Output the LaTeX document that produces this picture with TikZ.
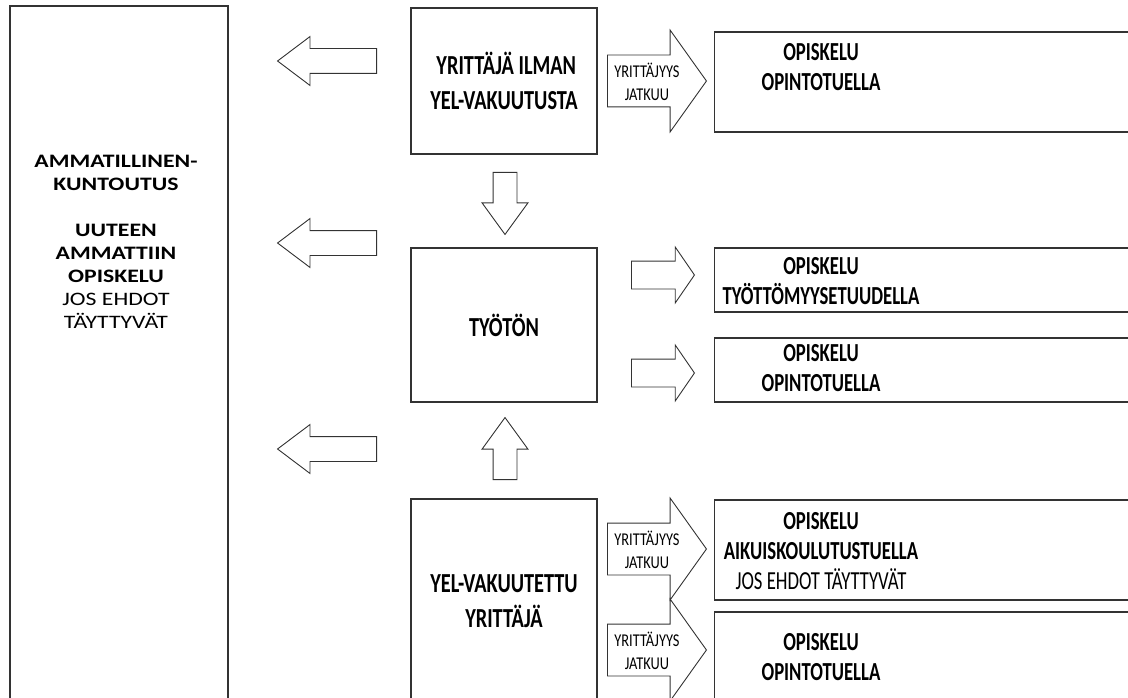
\documentclass[tikz,border=0pt]{standalone}
\usepackage{fontspec}
\setmainfont{Carlito}
\newfontfamily\kuntfont[FakeStretch=1.25]{Carlito}
\newfontfamily\bigfont[FakeStretch=0.74]{Carlito}
\newfontfamily\midfont[FakeStretch=0.72]{Carlito}
\newfontfamily\smallfont[FakeStretch=0.8]{Carlito}
\usetikzlibrary{shapes.arrows}
\tikzset{
  box/.style={draw=black!80, line width=1.2pt, rectangle, inner sep=0pt},
  big/.style={font=\bigfont\bfseries\fontsize{27.5}{35}\selectfont, align=center},
  mid/.style={font=\midfont\fontsize{26}{30}\selectfont, align=center},
  kunt/.style={font=\kuntfont\fontsize{19}{23}\selectfont, align=center},
  small/.style={font=\smallfont\fontsize{18}{23}\selectfont, align=center},
  fat/.style={single arrow, draw=black!80, line width=0.9pt, anchor=tail},
  leftarr/.style={fat, shape border rotate=180, minimum height=99, inner xsep=0pt, inner ysep=12pt,
    single arrow head extend=12pt, single arrow tip angle=74},
  vertarr/.style={fat, minimum height=62, inner ysep=0pt, inner xsep=11.5pt,
    single arrow head extend=11pt, single arrow tip angle=72},
  rightarr/.style={fat, minimum height=63, inner xsep=0pt, inner ysep=13.5pt,
    single arrow head extend=14pt, single arrow tip angle=111},
  textarr/.style={fat, minimum height=99, inner xsep=0pt, inner ysep=25.5pt,
    single arrow head extend=25pt, single arrow tip angle=109},
}
\begin{document}
\begin{tikzpicture}[x=1pt, y=-1pt]
\useasboundingbox (0,0) rectangle (1128,698);
\clip (0,0) rectangle (1128,698);

% boxes
\node[box, minimum width=218, minimum height=720] (kunt) at (119,366) {};
\node[kunt] (kunttxt) at (116,242) {\textbf{AMMATILLINEN-}\\\textbf{KUNTOUTUS}\\[23pt]
  \textbf{UUTEEN}\\\textbf{AMMATTIIN}\\\textbf{OPISKELU}\\JOS EHDOT\\TÄYTTYVÄT};

\node[box, big, minimum width=186, minimum height=146] (ilman) at (504,81) {\ YRITTÄJÄ ILMAN\\YEL-VAKUUTUSTA};
\node[box, big, minimum width=186, minimum height=154] (tyoton) at (504,325) {TYÖTÖN};
\node[box, big, minimum width=186, minimum height=204] (yel) at (504,601) {YEL-VAKUUTETTU\\YRITTÄJÄ};

\node[box, minimum width=425, minimum height=100] (op1) at (927,82) {};
\node[box, minimum width=425, minimum height=64] (op2) at (927,280) {};
\node[box, minimum width=425, minimum height=64] (op3) at (927,370) {};
\node[box, minimum width=425, minimum height=100] (op4) at (927,550) {};
\node[box, minimum width=425, minimum height=112] (op5) at (927,668) {};

\node[mid] (op1txt) at (821,67) {\textbf{OPISKELU}\\\textbf{OPINTOTUELLA}};
\node[mid] (op2txt) at (821,281) {\textbf{OPISKELU}\\\textbf{TYÖTTÖMYYSETUUDELLA}};
\node[mid] (op3txt) at (821,368) {\textbf{OPISKELU}\\\textbf{OPINTOTUELLA}};
\node[mid] (op4txt) at (821,551) {\textbf{OPISKELU}\\\textbf{AIKUISKOULUTUSTUELLA}\\JOS EHDOT TÄYTTYVÄT};
\node[mid] (op5txt) at (821,657) {\textbf{OPISKELU}\\\textbf{OPINTOTUELLA}};

% block arrows
\node[leftarr] (l1) at (377,61) {};
\node[leftarr] (l2) at (377,243) {};
\node[leftarr] (l3) at (377,449) {};
\node[vertarr, shape border rotate=270] (down) at (505,172) {};
\node[vertarr, shape border rotate=90] (up) at (505,480) {};
\node[rightarr] (r1) at (631,275) {};
\node[rightarr] (r2) at (631,373) {};
\node[textarr] (t1) at (607,81) {};
\node[textarr] (t2) at (607,549) {};
\node[textarr] (t3) at (607,650) {};
\foreach \a in {t1,t2,t3}
  \node[small] (\a txt) at ([xshift=40pt, yshift=-1pt]\a.tail) {YRITTÄJYYS\\JATKUU};
\end{tikzpicture}
\end{document}
